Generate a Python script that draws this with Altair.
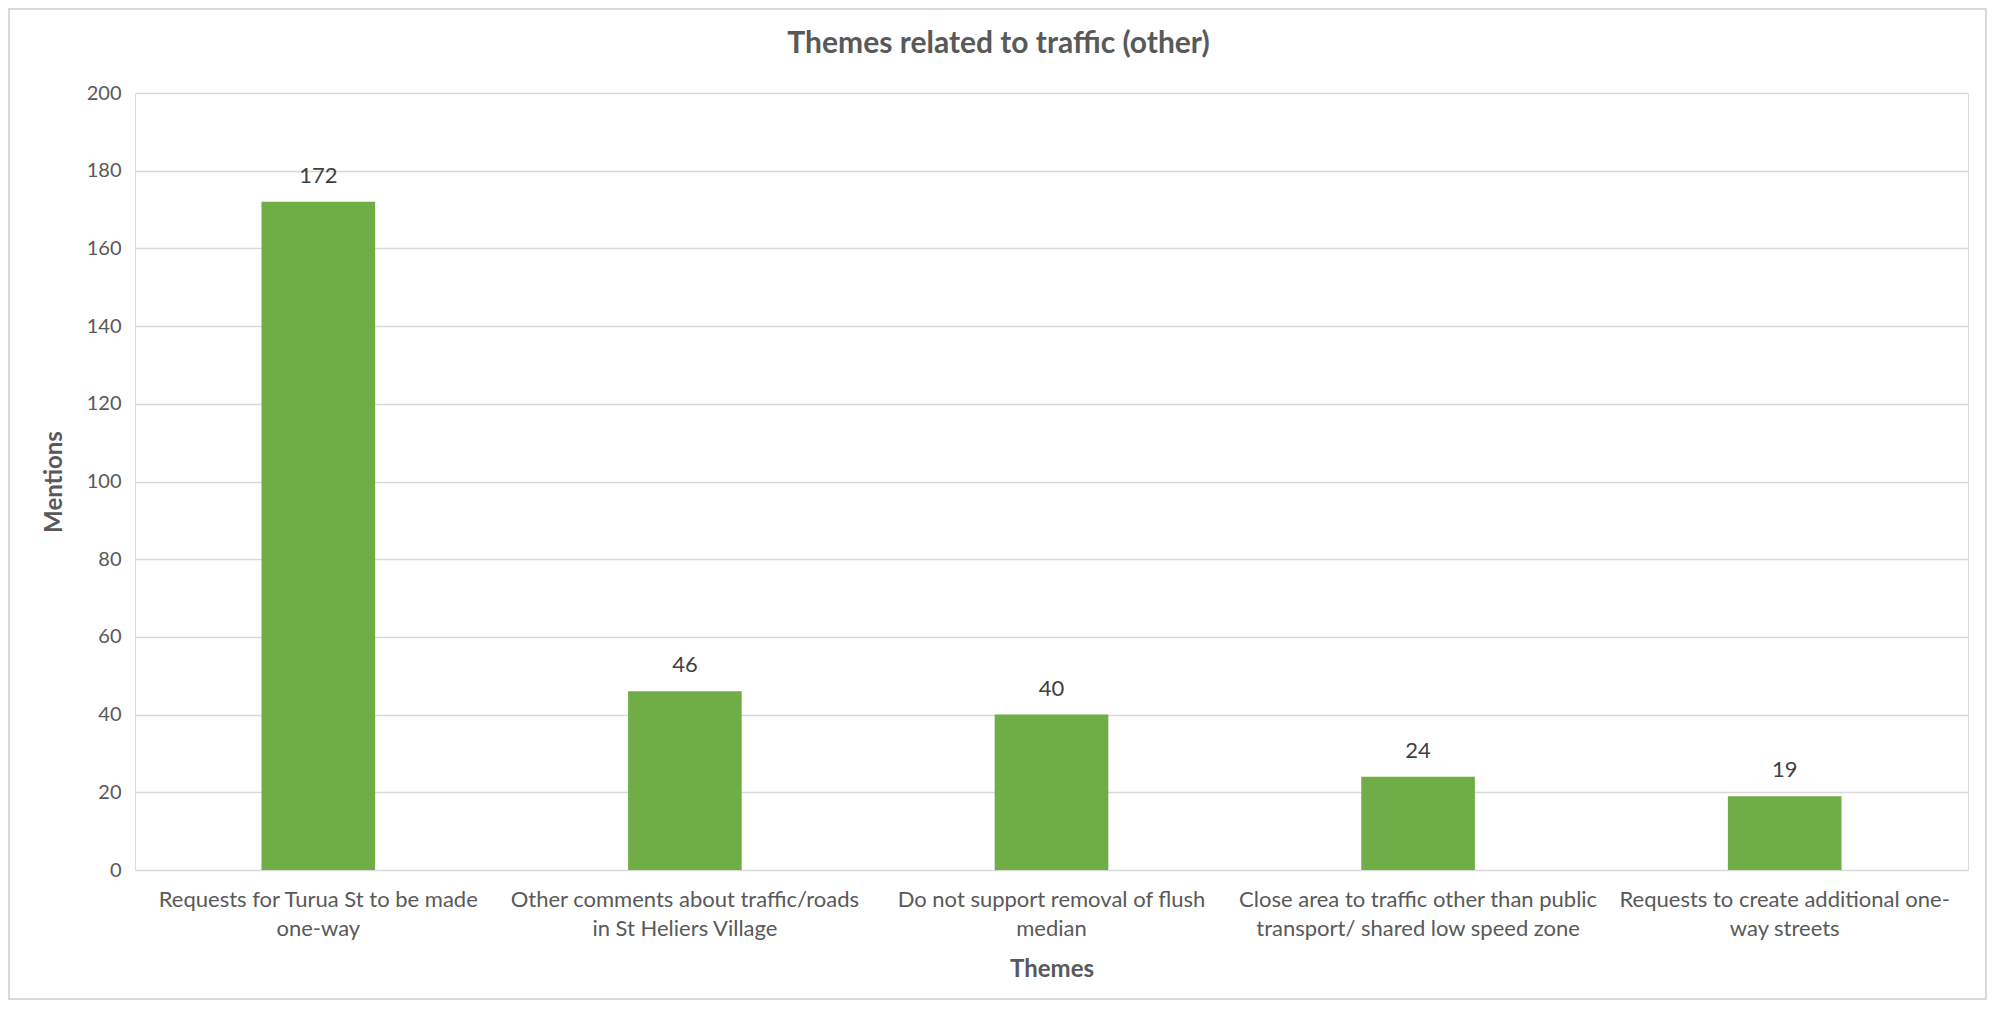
import altair as alt
import pandas as pd

themes = [
    "Requests for Turua St to be made one-way",
    "Other comments about traffic/roads in St Heliers Village",
    "Do not support removal of flush median",
    "Close area to traffic other than public transport/ shared low speed zone",
    "Requests to create additional one-way streets",
]
label_lines = [
    ["Requests for Turua St to be made", "one-way"],
    ["Other comments about traffic/roads", "in St Heliers Village"],
    ["Do not support removal of flush", "median"],
    ["Close area to traffic other than public", "transport/ shared low speed zone"],
    ["Requests to create additional one-", "way streets"],
]
mentions = [172, 46, 40, 24, 19]
y_ticks = [0, 20, 40, 60, 80, 100, 120, 140, 160, 180, 200]

df = pd.DataFrame({
    "theme": themes,
    "label": ["|".join(l) for l in label_lines],
    "mentions": mentions,
})

FONT = "Lato"
W, H = 1833, 777

x = alt.X(
    "label:N",
    sort=None,
    scale=alt.Scale(paddingInner=0.69, paddingOuter=0.345),
    axis=alt.Axis(
        title="Themes",
        labelAngle=0,
        labelExpr="split(datum.label, '|')",
        labelFont=FONT,
        labelFontSize=22,
        labelColor="#595959",
        labelLineHeight=29,
        labelPadding=19,
        labelLimit=400,
        ticks=False,
        domain=False,
        titleFont=FONT,
        titleFontSize=24,
        titleFontWeight="bold",
        titleColor="#595959",
        titlePadding=18,
    ),
)
y = alt.Y(
    "mentions:Q",
    scale=alt.Scale(domain=[0, 200], nice=False),
    axis=alt.Axis(
        title="Mentions",
        values=y_ticks,
        labelFont=FONT,
        labelFontSize=20,
        labelColor="#595959",
        labelPadding=14,
        ticks=False,
        domain=False,
        gridColor="#d9d9d9",
        gridWidth=1.5,
        titleFont=FONT,
        titleFontSize=24,
        titleFontWeight="bold",
        titleColor="#595959",
        titlePadding=20,
    ),
)

bars = alt.Chart(df).mark_bar(color="#70ad47").encode(x=x, y=y)
text = alt.Chart(df).mark_text(
    dy=-26, font=FONT, fontSize=22, color="#404040"
).encode(x=alt.X("label:N", sort=None), y="mentions:Q", text="mentions:Q")

border = alt.Chart(df).mark_rect(
    fillOpacity=0, stroke="#d9d9d9", strokeWidth=2
).encode(
    x=alt.value(-126), x2=alt.value(W + 18),
    y=alt.value(-84), y2=alt.value(H + 129),
)

chart = alt.layer(border, bars, text).properties(
    width=W,
    height=H,
    title=alt.TitleParams(
        "Themes related to traffic (other)",
        font=FONT, fontSize=30, fontWeight="bold", color="#595959",
        anchor="middle", offset=-51, dx=-53,
    ),
    padding={"left": 127, "top": 85, "right": 19, "bottom": 130},
    autosize="none",
).configure_view(stroke=None).configure(background="white")

chart.save("out.html", embed_options={"renderer": "svg", "actions": False})
